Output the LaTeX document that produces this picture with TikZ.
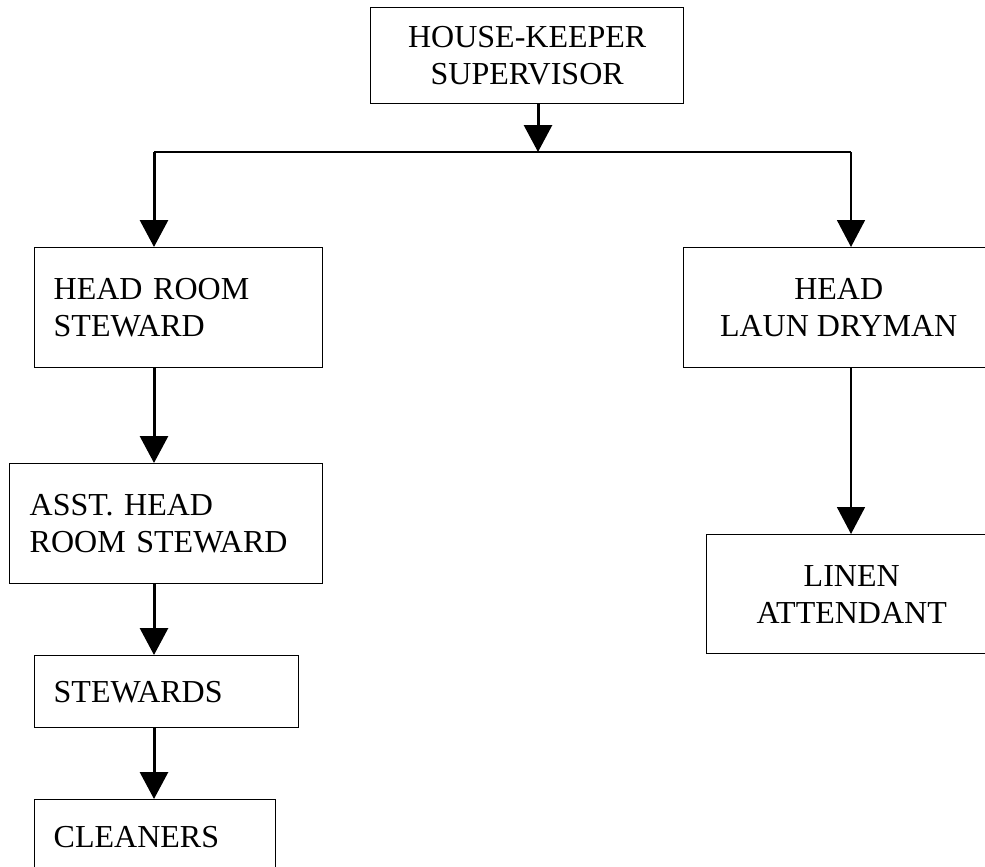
\documentclass[tikz,border=0pt]{standalone}
\usepackage{fontspec}
\setmainfont{Liberation Serif}
\usetikzlibrary{arrows.meta}
\begin{document}
\begin{tikzpicture}[x=0.5pt,y=-0.5pt,
  box/.style={draw, line width=0.7pt, rectangle, anchor=north west,
    font=\fontsize{16}{18.5}\selectfont, inner ysep=0pt},
  cbox/.style={box, align=center, inner xsep=0pt},
  lbox/.style={box, align=left, inner xsep=9.5pt},
  thickarr/.style={line width=1.5pt, -{Triangle[length=13.5pt,width=14pt]}},
  thinarr/.style={line width=0.85pt, -{Triangle[length=13.5pt,width=14pt]}},
  joinline/.style={line width=0.65pt}]
\useasboundingbox (0,0) rectangle (985,867);
\clip (0,0) rectangle (985,867);

\node[cbox, minimum width=156.5pt, minimum height=48pt] (top) at (370,7) {HOUSE-KEEPER\\SUPERVISOR};
\node[lbox, minimum width=144pt, minimum height=60pt, text width=125pt] (hrs) at (34,247) {HEAD ROOM\\STEWARD};
\node[lbox, inner xsep=10pt, minimum width=156.5pt, minimum height=60pt, text width=136.5pt] (asst) at (9,463) {ASST. HEAD\\ROOM STEWARD};
\node[lbox, minimum width=132pt, minimum height=36pt, text width=113pt] (stw) at (34,655) {STEWARDS};
\node[lbox, minimum width=120.5pt, minimum height=37pt, text width=101.5pt] (cln) at (34,799) {CLEANERS};
\node[cbox, minimum width=155pt, minimum height=60pt] (hld) at (683,247) {HEAD\\LAUN DRYMAN};
\node[cbox, minimum width=145pt, minimum height=59.5pt] (lin) at (706,534) {LINEN\\ATTENDANT};

\coordinate (jt) at (538,152);
\coordinate (jl) at (154,152);
\coordinate (jr) at (851,152);

\draw[thickarr] (top.south -| jt) -- (jt);
\draw[joinline] (jl) -- (jr);
\draw[thickarr] (jl) -- (hrs.north -| jl);
\draw[thinarr] (jr) -- (hld.north -| jr);
\draw[thickarr] (hrs.south -| jl) -- (asst.north -| jl);
\draw[thickarr] (asst.south -| jl) -- (stw.north -| jl);
\draw[thickarr] (stw.south -| jl) -- (cln.north -| jl);
\draw[thinarr] (hld.south -| jr) -- (lin.north -| jr);
\end{tikzpicture}
\end{document}
